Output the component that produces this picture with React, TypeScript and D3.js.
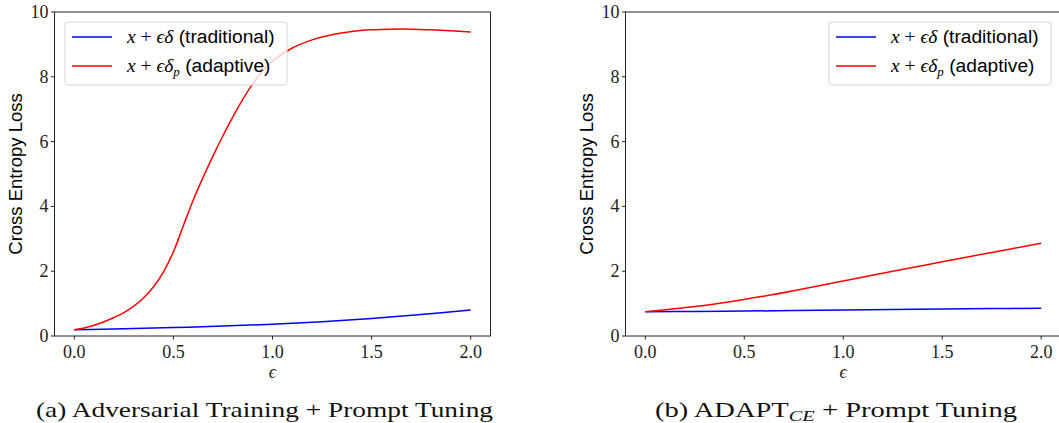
import React from "react";
import * as d3 from "d3";

// ---- data ----
const epsA_red = [0, 0.05, 0.1, 0.15, 0.2, 0.25, 0.3, 0.35, 0.4, 0.45, 0.5, 0.55, 0.6, 0.65, 0.7, 0.75, 0.8, 0.85, 0.9, 0.95, 1.0, 1.1, 1.2, 1.3, 1.4, 1.5, 1.6, 1.7, 1.8, 1.9, 2.0];
const lossA_red = [0.19, 0.25, 0.33, 0.44, 0.57, 0.72, 0.92, 1.18, 1.52, 1.98, 2.6, 3.4, 4.2, 4.9, 5.56, 6.18, 6.76, 7.3, 7.78, 8.18, 8.49, 8.89, 9.14, 9.3, 9.4, 9.45, 9.47, 9.47, 9.45, 9.42, 9.38];
const epsA_blue = [0, 0.25, 0.5, 0.75, 1.0, 1.25, 1.5, 1.75, 2.0];
const lossA_blue = [0.19, 0.22, 0.26, 0.305, 0.365, 0.44, 0.54, 0.66, 0.8];
const epsB = [0, 0.25, 0.5, 0.75, 1.0, 1.25, 1.5, 1.75, 2.0];
const lossB_red = [0.75, 0.91, 1.13, 1.4, 1.7, 2.0, 2.29, 2.58, 2.86];
const lossB_blue = [0.75, 0.76, 0.77, 0.785, 0.8, 0.815, 0.83, 0.845, 0.86];

const xTicks = [0, 0.5, 1.0, 1.5, 2.0];
const yTicks = [0, 2, 4, 6, 8, 10];
const yLabel = "Cross Entropy Loss";

const SERIF = "'Liberation Serif', 'DejaVu Serif', serif";
const SANS = "'Liberation Sans', Arial, sans-serif";

type Series = { xs: number[]; ys: number[]; color: string };

function Panel(props: {
  left: number;
  width: number;
  series: Series[];
  legendAlign: "left" | "right";
}) {
  const top = 12;
  const bottom = 336;
  const { left, width } = props;
  const right = left + width;
  const x = d3.scaleLinear().domain([-0.1, 2.1]).range([left, right]);
  const y = d3.scaleLinear().domain([0, 10]).range([bottom, top]);
  const line = d3
    .line<[number, number]>()
    .x((d) => x(d[0]))
    .y((d) => y(d[1]))
    .curve(d3.curveCatmullRom.alpha(0.5));

  const lw = 222;
  const lh = 63;
  const lx = props.legendAlign === "left" ? left + 10.5 : right - 10 - lw;
  const ly = 22;
  const cx = (left + right) / 2;

  return (
    <g>
      <defs>
        <clipPath id={`clip${Math.round(left)}`}>
          <rect x={left} y={top} width={width} height={bottom - top} />
        </clipPath>
      </defs>
      <g clipPath={`url(#clip${Math.round(left)})`}>
        {props.series.map((s, i) => (
          <path
            key={i}
            d={line(s.xs.map((v, j) => [v, s.ys[j]] as [number, number])) || ""}
            fill="none"
            stroke={s.color}
            strokeWidth={1.5}
          />
        ))}
      </g>
      <rect x={left} y={top} width={width} height={bottom - top} fill="none" stroke="#222" strokeWidth={1} />
      {xTicks.map((t) => (
        <g key={t}>
          <line x1={x(t)} x2={x(t)} y1={bottom} y2={bottom + 3.5} stroke="#222" />
          <text x={x(t)} y={358} textAnchor="middle" fontFamily={SERIF} fontSize={18} fill="#222">
            {t.toFixed(1)}
          </text>
        </g>
      ))}
      {yTicks.map((t) => (
        <g key={t}>
          <line x1={left - 3.5} x2={left} y1={y(t)} y2={y(t)} stroke="#222" />
          <text x={left - 6} y={y(t) + 6} textAnchor="end" fontFamily={SERIF} fontSize={18} fill="#222">
            {t}
          </text>
        </g>
      ))}
      <text x={cx} y={378} textAnchor="middle" fontFamily={SERIF} fontStyle="italic" fontSize={18} fill="#222">
        ϵ
      </text>
      <text
        transform={`translate(${left - 32.5},${(top + bottom) / 2}) rotate(-90)`}
        textAnchor="middle"
        fontFamily={SANS}
        fontSize={18.5}
        fill="#000"
      >
        {yLabel}
      </text>
      {/* legend */}
      <rect x={lx} y={ly} width={lw} height={lh} rx={3} fill="#fff" fillOpacity={0.8} stroke="#d4d4d4" strokeWidth={1} />
      <line x1={lx + 7} x2={lx + 47} y1={ly + 15} y2={ly + 15} stroke="blue" strokeWidth={1.5} />
      <line x1={lx + 7} x2={lx + 47} y1={ly + 44} y2={ly + 44} stroke="red" strokeWidth={1.5} />
      <text x={lx + 62} y={ly + 21} fontSize={19.2} fill="#000">
        <tspan fontFamily={SERIF} fontStyle="italic" fontSize={19.5}>x</tspan>
        <tspan fontFamily={SERIF} fontSize={19.5}> + </tspan>
        <tspan fontFamily={SERIF} fontStyle="italic" fontSize={19.5}>ϵδ</tspan>
        <tspan fontFamily={SANS}> (traditional)</tspan>
      </text>
      <text x={lx + 62} y={ly + 50} fontSize={19.2} fill="#000">
        <tspan fontFamily={SERIF} fontStyle="italic" fontSize={19.5}>x</tspan>
        <tspan fontFamily={SERIF} fontSize={19.5}> + </tspan>
        <tspan fontFamily={SERIF} fontStyle="italic" fontSize={19.5}>ϵδ</tspan>
        <tspan fontFamily={SERIF} fontStyle="italic" fontSize={13} dy={4}>p</tspan>
        <tspan fontFamily={SANS} dy={-4}> (adaptive)</tspan>
      </text>
    </g>
  );
}

export default function App() {
  return (
    <svg width={1059} height={423} style={{ position: "absolute", left: 0, top: 0, background: "#fff" }}>
      <rect width={1059} height={423} fill="#fff" />
      <Panel
        left={54.5}
        width={436}
        legendAlign="left"
        series={[
          { xs: epsA_blue, ys: lossA_blue, color: "blue" },
          { xs: epsA_red, ys: lossA_red, color: "red" },
        ]}
      />
      <Panel
        left={625.5}
        width={435.5}
        legendAlign="right"
        series={[
          { xs: epsB, ys: lossB_blue, color: "blue" },
          { xs: epsB, ys: lossB_red, color: "red" },
        ]}
      />
      <text x={36} y={417} fontFamily={SERIF} fontSize={21} fill="#111" textLength={457} lengthAdjust="spacingAndGlyphs">
        (a) Adversarial Training + Prompt Tuning
      </text>
      <text x={655} y={417} fontFamily={SERIF} fontSize={21} fill="#111" textLength={362} lengthAdjust="spacingAndGlyphs">
        <tspan>(b) ADAPT</tspan>
        <tspan fontStyle="italic" fontSize={15} dy={4}>CE</tspan>
        <tspan dy={-4}> + Prompt Tuning</tspan>
      </text>
    </svg>
  );
}
